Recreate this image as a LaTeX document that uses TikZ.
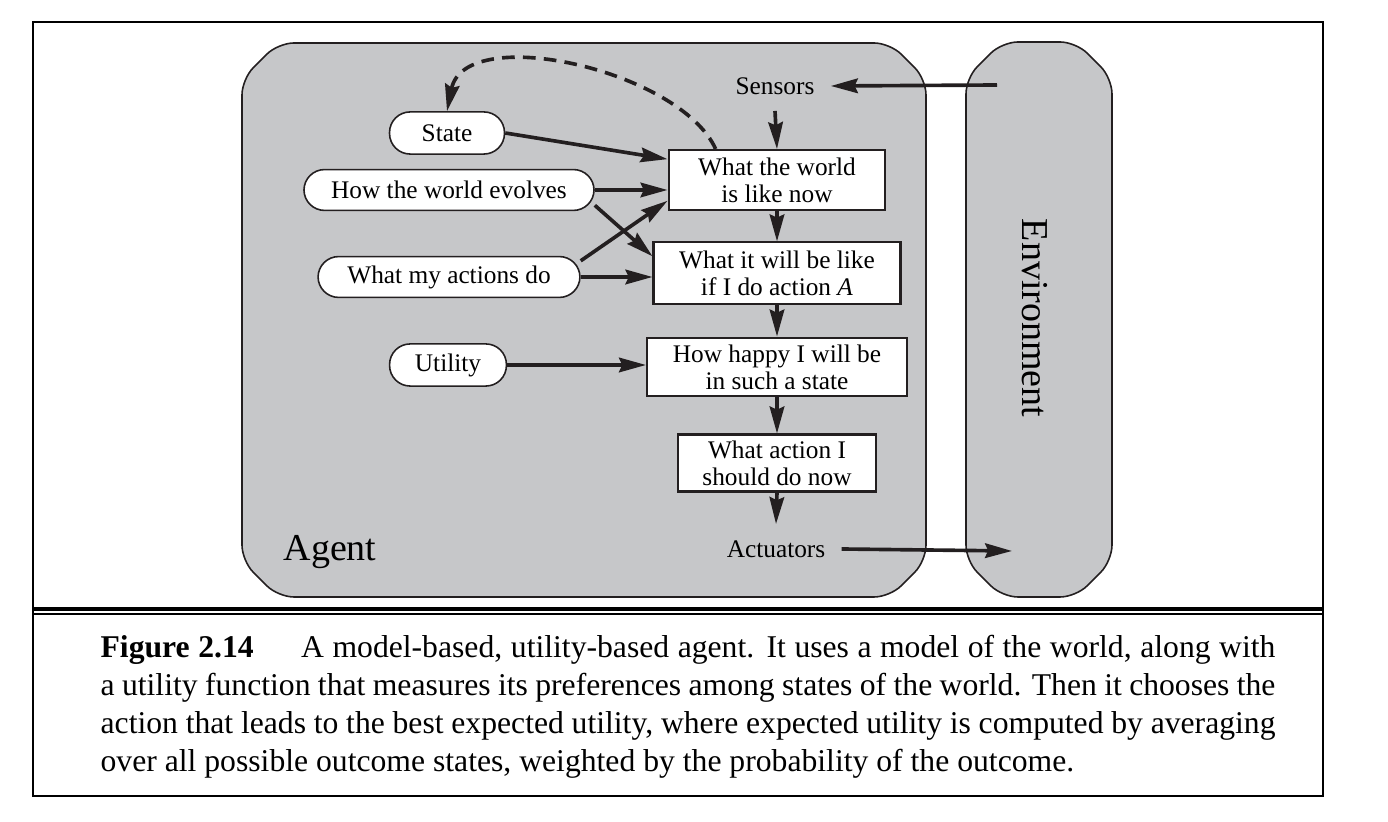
\documentclass[tikz,border=0pt]{standalone}
\usepackage{fontspec}
\setmainfont{Liberation Serif}
\usetikzlibrary{arrows.meta}
\definecolor{gris}{RGB}{198,199,201}
\definecolor{trait}{RGB}{35,31,32}

\begin{document}
\begin{tikzpicture}[x=0.3158pt, y=-0.3158pt,
    every node/.style={inner sep=0pt, font=\fontsize{8}{8.6}\selectfont, align=center},
    boite/.style={draw=trait, line width=0.65pt, fill=white},
    pilule/.style={draw=trait, line width=0.5pt, fill=white, rounded corners=6.5pt},
    etiquette/.style={inner sep=5pt},
    bloc/.style={draw=trait, line width=0.5pt, fill=gris, rounded corners=5pt},
    fleche/.style={-{Stealth[length=8.5pt, width=4.6pt, inset=1pt]}, line width=1.15pt, draw=trait}]
    % cadre et blocs
    \useasboundingbox (0,0) rectangle (1388,822);
    \draw[line width=0.8pt] (33,22) rectangle (1323,796);
    \draw[line width=1pt] (33,609) -- (1323,609);
    \draw[line width=0.4pt] (33,614) -- (1323,614);
    \draw[bloc] (242,79) -- (278,43) -- (890,43) -- (926,79) -- (926,561) -- (890,597) -- (278,597) -- (242,561) -- cycle;
    \draw[bloc] (966,78) -- (1002,42) -- (1076,42) -- (1112,78) -- (1112,561) -- (1076,597) -- (1002,597) -- (966,561) -- cycle;
    % définition des noeuds
    \node[etiquette] (S) at (775,86) {Sensors};
    \node[etiquette] (A) at (776,549) {Actuators};
    \node[font=\fontsize{12}{14}\selectfont, anchor=base west] (agent) at (283,561) {Agent};
    \node[font=\fontsize{12}{14}\selectfont, rotate=-90] (env) at (1035,318) {Environment};
    \coordinate (E_s) at (997,85);
    \coordinate (E_a) at (1012,551);
    \node[boite, minimum width=68.5pt, minimum height=18.9pt] (B_1) at (777,180) {What the world\\is like now};
    \node[boite, minimum width=78pt, minimum height=19.3pt] (B_2) at (777,273) {What it will be like\\if I do action \textit{A}};
    \node[boite, minimum width=82.1pt, minimum height=18.6pt] (B_3) at (777,367) {How happy I will be\\in such a state};
    \node[boite, minimum width=62.8pt, minimum height=18pt] (B_4) at (777,463) {What action I\\should do now};
    \node[pilule, minimum width=36.3pt, minimum height=13.3pt] (P_1) at (447,133) {State};
    \node[pilule, minimum width=91.6pt, minimum height=12.9pt] (P_2) at (449,190) {How the world evolves};
    \node[pilule, minimum width=82.7pt, minimum height=12.9pt] (P_3) at (449,277) {What my actions do};
    \node[pilule, minimum width=36.9pt, minimum height=13.3pt] (P_4) at (448,365) {Utility};
    % flèches
    \draw[fleche] (E_s) -- (S.east);
    \draw[fleche] (S.south) -- (B_1.north);
    \draw[fleche] (P_1.east) -- ([yshift=-3.2pt]B_1.north west);
    \draw[fleche] (P_2.east) -- (P_2.east -| B_1.west);
    \draw[fleche] (P_2.-6) -- ([yshift=-4.7pt]B_2.north west);
    \draw[fleche] (P_3.7) -- ([yshift=3.2pt]B_1.south west);
    \draw[fleche] (P_3.east) -- (P_3.east -| B_2.west);
    \draw[fleche] (P_4.east) -- (P_4.east -| B_3.west);
    \draw[fleche] (B_1.south) -- (B_2.north);
    \draw[fleche] (B_2.south) -- (B_3.north);
    \draw[fleche] (B_3.south) -- (B_4.north);
    \draw[fleche] (B_4.south) -- (A.north);
    \draw[fleche] (A.east) -- (E_a);
    \draw[fleche, dash pattern=on 4pt off 2.6pt] ([xshift=15.2pt]B_1.north west) .. controls (680,70) and (465,22) .. (P_1.north);
    % légende
    \node[anchor=base west, text width=371pt, align=justify, font=\fontsize{10}{12}\selectfont] (legende) at (100,658)
      {\textbf{Figure 2.14}\hspace{1.5em}A model-based, utility-based agent. It uses a model of the world, along with\linebreak
       a utility function that measures its preferences among states of the world. Then it chooses the\linebreak
       action that leads to the best expected utility, where expected utility is computed by averaging\linebreak
       over all possible outcome states, weighted by the probability of the outcome.};
\end{tikzpicture}
\end{document}
